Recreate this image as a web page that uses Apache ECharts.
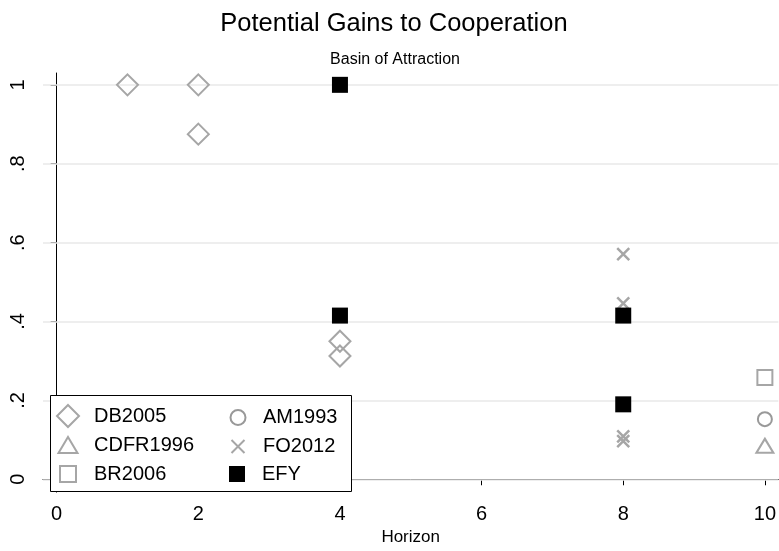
<!DOCTYPE html>
<html>
<head>
<meta charset="utf-8">
<script src="https://cdn.jsdelivr.net/npm/echarts@6/dist/echarts.min.js"></script>
<style>html,body{margin:0;padding:0;background:#fff}#c{width:779px;height:551px}</style>
</head>
<body>
<div id="c"></div>
<script>
// ---- data ----
const xTicks = [0, 2, 4, 6, 8, 10];
const yTicks = [0, 0.2, 0.4, 0.6, 0.8, 1];
const db2005 = [[1, 1], [2, 1], [2, 0.875], [4, 0.35], [4, 0.3125]];
const am1993 = [[10, 0.1525]];
const cdfr1996 = [[10, 0.085]];
const fo2012 = [[8, 0.571], [8, 0.446], [8, 0.097], [8, 0.109]];
const br2006 = [[10, 0.258]];
const efy = [[4, 1], [4, 0.415], [8, 0.415], [8, 0.19]];
const seriesNames = ['DB2005', 'AM1993', 'CDFR1996', 'FO2012', 'BR2006', 'EFY'];

const FONT = 'Liberation Sans, Arial, Helvetica, sans-serif';
const GRAY = '#a6a6a6';
const hollow = (c) => ({ color: 'rgba(255,255,255,0)', borderColor: c, borderWidth: 2, opacity: 1 });
const XPATH = 'path://M0,0L10,10M10,0L0,10';
const SQPATH = 'path://M0,0H10V10H0Z';

// legend layout (style only): icon centre, icon size, text start
const legendLayout = {
  DB2005:   { cx: 67,  cy: 415, w: 22, h: 22, tx: 93 },
  CDFR1996: { cx: 67,  cy: 443, w: 19, h: 16, tx: 93 },
  BR2006:   { cx: 67,  cy: 472, w: 16, h: 16, tx: 93 },
  AM1993:   { cx: 237, cy: 415, w: 15, h: 15, tx: 262 },
  FO2012:   { cx: 237, cy: 443, w: 13, h: 13, tx: 262 },
  EFY:      { cx: 237, cy: 472, w: 16, h: 16, tx: 262 }
};
const legends = seriesNames.map(n => {
  const L = legendLayout[n];
  return {
    data: [n], orient: 'vertical', padding: 0, selectedMode: false, z: 10,
    left: L.cx - L.w / 2, top: L.cy - L.h / 2,
    itemWidth: L.w, itemHeight: L.h,
    textStyle: { fontSize: 20, color: '#000', fontFamily: FONT,
      padding: [0, 0, 0, L.tx - (L.cx + L.w / 2 + 5)] }
  };
});

const chart = echarts.init(document.getElementById('c'), null, { renderer: 'canvas' });
const fmt = v => { if (Math.abs(v) < 1e-9) return '0'; if (Math.abs(v - 1) < 1e-9) return '1'; return String(+v.toFixed(1)).replace(/^0/, ''); };

chart.setOption({
  animation: false,
  backgroundColor: '#fff',
  textStyle: { fontFamily: FONT },
  title: [
    { text: 'Potential Gains to Cooperation', left: 389, top: 6, textAlign: 'center',
      textStyle: { fontSize: 25.5, fontWeight: 'normal', color: '#000', fontFamily: FONT } },
    { text: 'Basin of Attraction', left: 390, top: 47, textAlign: 'center',
      textStyle: { fontSize: 16, fontWeight: 'normal', color: '#000', fontFamily: FONT } }
  ],
  grid: { left: 43, right: 0, top: 73, bottom: 53, containLabel: false },
  xAxis: {
    type: 'value', min: -0.193, max: 10.19,
    name: 'Horizon', nameLocation: 'middle', nameGap: 34,
    nameTextStyle: { fontSize: 17, color: '#000', fontFamily: FONT },
    axisLine: { show: true, lineStyle: { color: '#000', width: 1 } },
    axisTick: { show: true, length: 6, lineStyle: { color: '#000' }, customValues: xTicks },
    axisLabel: { show: true, fontSize: 20, color: '#000', margin: 12, customValues: xTicks, formatter: v => String(v) },
    splitLine: { show: false }
  },
  yAxis: {
    type: 'value', min: -0.0325, max: 1.03,
    axisLine: { show: true, lineStyle: { color: '#000', width: 1 } },
    axisTick: { show: true, length: 6, lineStyle: { color: '#000' }, customValues: yTicks },
    axisLabel: { show: true, fontSize: 20, color: '#000', margin: 15, rotate: 90, customValues: yTicks, formatter: fmt },
    splitLine: { show: false }
  },
  legend: legends,
  graphic: [
    { type: 'rect', z: 5, shape: { x: 50.5, y: 395.5, width: 301, height: 96 },
      style: { fill: '#fff', stroke: '#000', lineWidth: 1 } }
  ],
  series: [
    { name: 'grid', type: 'scatter', data: [], silent: true, z: 1,
      markLine: { silent: true, z: 1, symbol: 'none', label: { show: false }, animation: false,
        lineStyle: { color: '#e8e8e8', width: 1.6, type: 'solid' },
        data: yTicks.map(v => ({ yAxis: v })) } },
    { name: 'DB2005', type: 'scatter', data: db2005, symbol: 'diamond', symbolSize: [21, 21], itemStyle: hollow(GRAY), z: 3 },
    { name: 'AM1993', type: 'scatter', data: am1993, symbol: 'circle', symbolSize: 14, itemStyle: hollow('#999999'), z: 3 },
    { name: 'CDFR1996', type: 'scatter', data: cdfr1996, symbol: 'triangle', symbolSize: [17, 14], itemStyle: hollow(GRAY), z: 3 },
    { name: 'FO2012', type: 'scatter', data: fo2012, symbol: XPATH, symbolSize: 12,
      itemStyle: { color: 'rgba(255,255,255,0)', borderColor: GRAY, borderWidth: 2.5, opacity: 1 }, z: 3 },
    { name: 'BR2006', type: 'scatter', data: br2006, symbol: SQPATH, symbolSize: 15, itemStyle: hollow(GRAY), z: 3 },
    { name: 'EFY', type: 'scatter', data: efy, symbol: SQPATH, symbolSize: 16, itemStyle: { color: '#000', opacity: 1 }, z: 4 }
  ]
});
</script>
</body>
</html>
